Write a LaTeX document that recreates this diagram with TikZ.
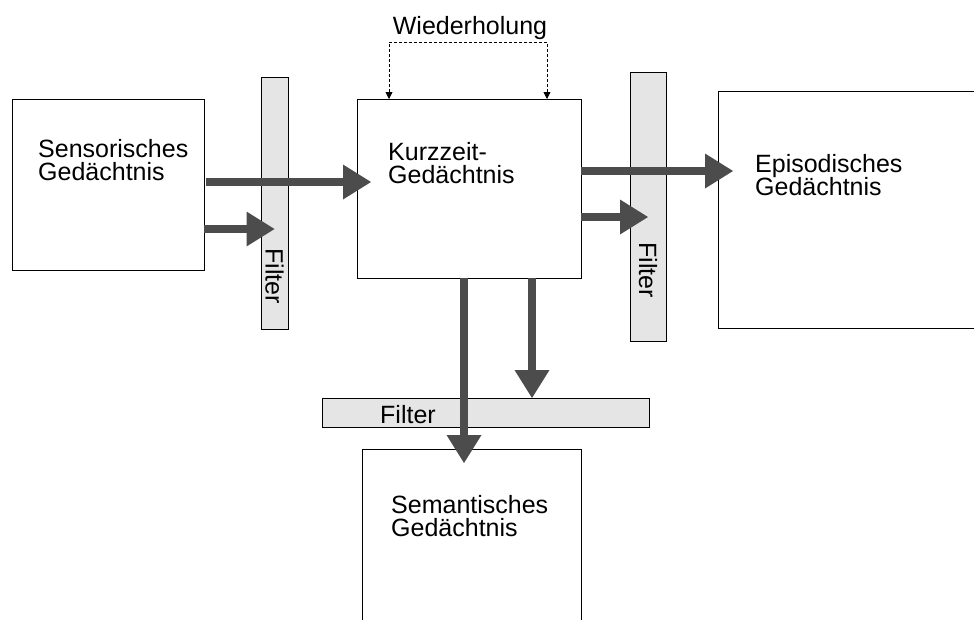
\documentclass[tikz,border=0pt]{standalone}
\usepackage{fontspec}
\setmainfont{Liberation Sans}
\usepackage{tikz}
\usetikzlibrary{arrows.meta, calc}

\begin{document}
\begin{tikzpicture}[x=1pt,y=-1pt,
  box/.style={draw,line width=0.8pt,inner sep=0pt,outer sep=0pt,anchor=north west},
  filt/.style={box,fill=black!10},
  txt/.style={font=\fontsize{25}{23.5}\selectfont,align=left,inner sep=0pt},
  flow/.style={black!70,line width=8pt,-{Triangle[length=28pt,width=35pt,line width=0pt]}},
  rep/.style={line width=0.8pt,dash pattern=on 3pt off 2pt,{Triangle[length=7pt,width=7pt]}-{Triangle[length=7pt,width=7pt]}}]
  \useasboundingbox (0,0) rectangle (974,619);
  \clip (0,0) rectangle (974,619);
  % Speicher
  \node[box,minimum width=192pt,minimum height=171pt] (sens) at (12,99) {};
  \node[box,minimum width=224pt,minimum height=179pt] (kurz) at (357,99) {};
  \node[box,minimum width=272pt,minimum height=237pt] (epi) at (718,91) {};
  \node[box,minimum width=219pt,minimum height=200pt] (sem) at (362,449) {};
  \node[txt,anchor=north west] (senstxt) at (38,139) {Sensorisches\\Gedächtnis};
  \node[txt,anchor=north west] (kurztxt) at (388,142) {Kurzzeit-\\Gedächtnis};
  \node[txt,anchor=north west] (epitxt) at (755,154) {Episodisches\\Gedächtnis};
  \node[txt,anchor=north west] (semtxt) at (391,495) {Semantisches\\Gedächtnis};
  % Filter
  \node[filt,minimum width=27pt,minimum height=252pt] (filt1) at (261,77) {};
  \node[filt,minimum width=36pt,minimum height=269pt] (filt2) at (630,72) {};
  \node[filt,minimum width=327pt,minimum height=29pt] (filt3) at (322,398) {};
  \node[txt,rotate=-90,anchor=west] (f1txt) at (274.5,248) {Filter};
  \node[txt,rotate=-90,anchor=west] (f2txt) at (648,242) {Filter};
  \node[txt,anchor=base west] (f3txt) at (380,423) {Filter};
  % Wiederholung
  \node[txt,anchor=base] (wied) at (470,34) {Wiederholung};
  \draw[rep] ([xshift=32pt]kurz.north west) -- ++(0,-57) -| ([xshift=-34pt]kurz.north east);
  % Pfeile
  \draw[flow,shorten <=2pt,shorten >=-14pt] ([yshift=-83pt]sens.north east) -- ([yshift=-83pt]kurz.north west);
  \draw[flow] ([yshift=-130pt]sens.north east) coordinate (s2) -- (s2 -| filt1.center);
  \draw[flow,shorten >=-15pt] ([yshift=-72pt]kurz.north east) coordinate (k1) -- (k1 -| epi.west);
  \draw[flow] ([yshift=-118pt]kurz.north east) coordinate (k2) -- (k2 -| filt2.center);
  \draw[flow,shorten >=-14pt] ([xshift=107pt]kurz.south west) coordinate (k3) -- (k3 |- sem.north);
  \draw[flow] ([xshift=175pt]kurz.south west) coordinate (k4) -- (k4 |- filt3.north);
\end{tikzpicture}
\end{document}
